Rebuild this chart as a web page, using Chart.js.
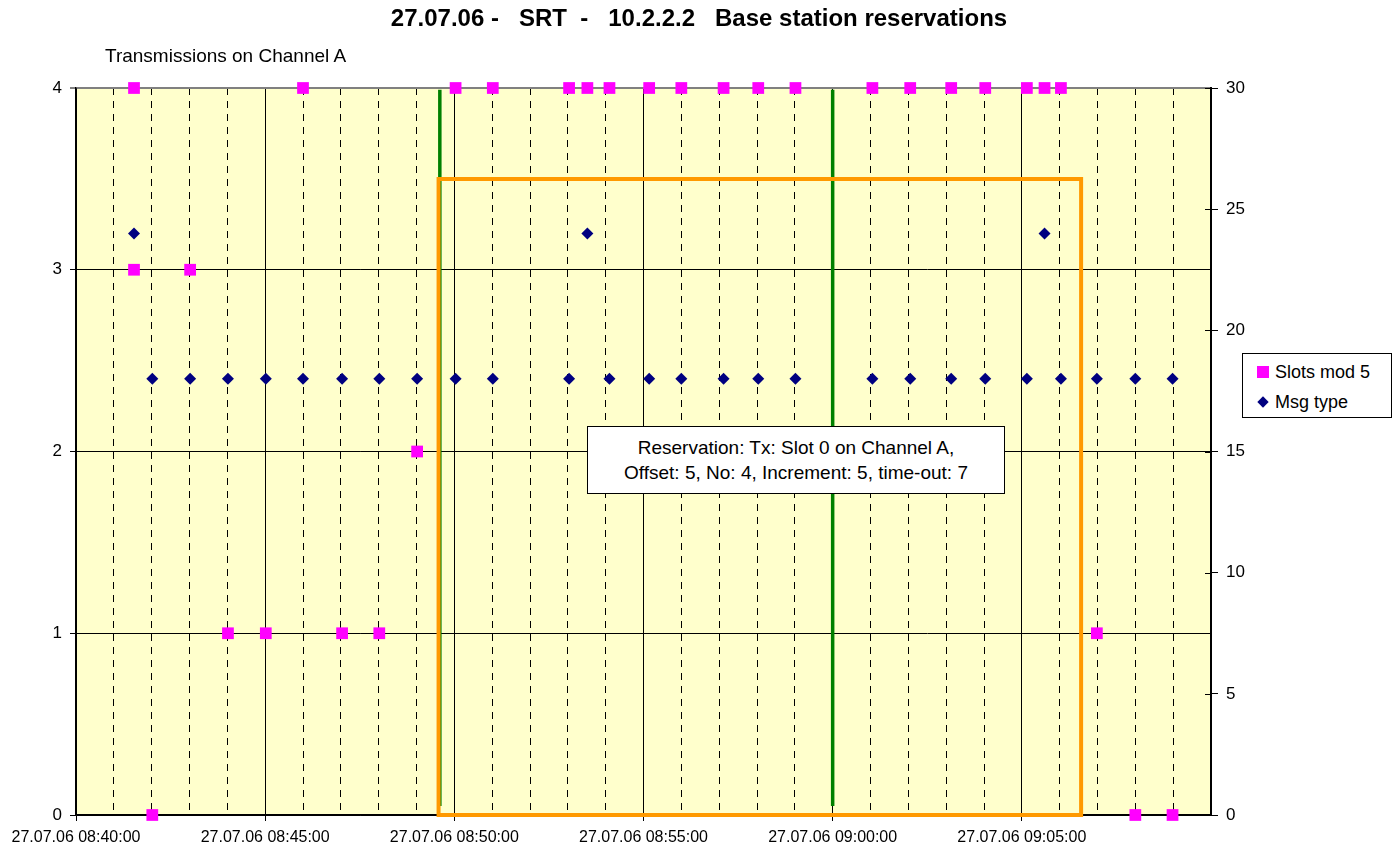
<!DOCTYPE html>
<html>
<head>
<meta charset="utf-8">
<title>Base station reservations</title>
<script src="https://cdn.jsdelivr.net/npm/chart.js@4.4.0/dist/chart.umd.min.js"></script>
<style>
    body { margin: 0; background: #fff; font-family: Arial, "Liberation Sans", sans-serif; color: #000; }
    #wrap { position: relative; width: 1398px; height: 850px; }
    #axisTitle { position: absolute; left: 105px; top: 45px; font-size: 19px; line-height: 22px; white-space: nowrap; }
    #legendBox { position: absolute; left: 1242px; top: 353px; width: 148px; height: 63px; border: 1px solid #000; background: #fff; font-size: 18px; }
    #legendBox .item { position: absolute; left: 0; width: 148px; height: 22px; line-height: 22px; white-space: nowrap; }
    #legendBox .sq { position: absolute; left: 14px; top: 5px; width: 12px; height: 12px; background: #ff00ff; }
    #legendBox .dm { position: absolute; left: 16px; top: 7px; width: 8px; height: 8px; background: #000080; transform: rotate(45deg); }
    #legendBox .lbl { position: absolute; left: 32px; top: 0; }
    #note { position: absolute; left: 587px; top: 426px; width: 418px; height: 68px; box-sizing: border-box; border: 1px solid #000; background: #fff;
            padding-top: 8px; text-align: center; font-size: 19px; line-height: 25px; white-space: nowrap; }
</style>
</head>
<body>
<div id="wrap">
    <canvas id="reservationChart" width="1398" height="850"></canvas>
    <div id="axisTitle">Transmissions on Channel A</div>
    <div id="legendBox">
        <div class="item" style="top:7px"><span class="sq"></span><span class="lbl">Slots mod 5</span></div>
        <div class="item" style="top:37px"><span class="dm"></span><span class="lbl">Msg type</span></div>
    </div>
    <div id="note">Reservation: Tx: Slot 0 on Channel A,<br>Offset: 5, No: 4, Increment: 5, time-out: 7</div>
</div>
<script>
// 날짜 / 시간축 범위
const dateText = '27.07.06';
const axisStart = '08:40:00';
const axisEnd = '09:10:00';

// Slots mod 5 (왼쪽 축)
const slotTimes = ['08:41:32', '08:41:32', '08:42:01', '08:43:01', '08:44:01', '08:45:01', '08:46:00', '08:47:02',
    '08:48:01', '08:49:01', '08:50:02', '08:51:01', '08:53:02', '08:53:31', '08:54:06', '08:55:09', '08:56:00',
    '08:57:07', '08:58:02', '08:59:01', '09:01:03', '09:02:03', '09:03:08', '09:04:02', '09:05:08', '09:05:36',
    '09:06:02', '09:06:59', '09:08:00', '09:08:59'];
const slotValues = [4, 3, 0, 3, 1, 1, 4, 1, 1, 2, 4, 4, 4, 4, 4, 4, 4, 4, 4, 4, 4, 4, 4, 4, 4, 4, 4, 1, 0, 0];

// Msg type (오른쪽 축)
const msgTimes = ['08:41:32', '08:42:01', '08:43:01', '08:44:01', '08:45:01', '08:46:00', '08:47:02', '08:48:01',
    '08:49:01', '08:50:02', '08:51:01', '08:53:02', '08:53:31', '08:54:06', '08:55:09', '08:56:00', '08:57:07',
    '08:58:02', '08:59:01', '09:01:03', '09:02:03', '09:03:08', '09:04:02', '09:05:08', '09:05:36', '09:06:02',
    '09:06:59', '09:08:00', '09:08:59'];
const msgValues = [24, 18, 18, 18, 18, 18, 18, 18, 18, 18, 18, 18, 24, 18, 18, 18, 18, 18, 18, 18, 18, 18, 18, 18, 24, 18, 18, 18, 18];

// 예약 구간 (주황 사각형) 과 초록 세로선
const reservationTimes = ['08:49:35', '09:06:34'];
const reservationLevels = [0, 3.5];
const markerTimes = ['08:49:37', '09:00:00'];
const markerLevels = [0.05, 3.99];

const leftTicks = [0, 4, 1];     // min, max, step
const rightTicks = [0, 30, 5];

// "HH:MM:SS" -> 시작 시각부터의 초
function toSeconds(text) {
    const p = text.split(':').map(Number);
    const base = axisStart.split(':').map(Number);
    return (p[0] * 3600 + p[1] * 60 + p[2]) - (base[0] * 3600 + base[1] * 60 + base[2]);
}

function toClock(sec) {
    const base = axisStart.split(':').map(Number);
    let total = base[0] * 3600 + base[1] * 60 + base[2] + sec;
    const h = Math.floor(total / 3600);
    const m = Math.floor((total % 3600) / 60);
    const s = total % 60;
    return [h, m, s].map(n => String(n).padStart(2, '0')).join(':');
}

function pairs(times, values) {
    return times.map((t, i) => ({ x: toSeconds(t), y: values[i] }));
}

const xMax = toSeconds(axisEnd);
const isMajor = v => v % 300 === 0 && v < xMax;

// 그래프 영역 배경색
const plotBackground = {
    id: 'plotBackground',
    beforeDraw(chart) {
        const { ctx, chartArea: a } = chart;
        ctx.save();
        ctx.fillStyle = '#FFFFCC';
        ctx.fillRect(a.left, a.top, a.right - a.left, a.bottom - a.top);
        ctx.restore();
    }
};

// 오른쪽 축 눈금이 축선을 가로지르도록 안쪽 부분을 그림
const innerTicks = {
    id: 'innerTicks',
    afterDatasetsDraw(chart) {
        const scale = chart.scales.y2;
        const ctx = chart.ctx;
        ctx.save();
        ctx.strokeStyle = '#000';
        ctx.lineWidth = 1;
        scale.ticks.forEach(t => {
            const y = Math.round(scale.getPixelForValue(t.value)) + 0.5;
            ctx.beginPath();
            ctx.moveTo(chart.chartArea.right - 6, y);
            ctx.lineTo(chart.chartArea.right, y);
            ctx.stroke();
        });
        ctx.restore();
    }
};

document.addEventListener('DOMContentLoaded', function() {
    Chart.defaults.font.family = 'Arial, "Liberation Sans", sans-serif';
    Chart.defaults.color = '#000';

    const r0 = toSeconds(reservationTimes[0]);
    const r1 = toSeconds(reservationTimes[1]);
    const rectangle = [
        { x: r1, y: reservationLevels[0] }, { x: r0, y: reservationLevels[0] },
        { x: r0, y: reservationLevels[1] }, { x: r1, y: reservationLevels[1] },
        { x: r1, y: reservationLevels[0] }
    ];

    const ctx = document.getElementById('reservationChart').getContext('2d');
    window.reservationChart = new Chart(ctx, {
        type: 'scatter',
        data: {
            datasets: [{
                label: 'Slots mod 5',
                data: pairs(slotTimes, slotValues),
                yAxisID: 'y',
                pointStyle: 'rect',
                pointRadius: 8.3,
                backgroundColor: '#FF00FF',
                borderWidth: 0,
                clip: false,
                order: 0
            }, {
                label: 'Msg type',
                data: pairs(msgTimes, msgValues),
                yAxisID: 'y2',
                pointStyle: 'rectRot',
                pointRadius: 6,
                backgroundColor: '#000080',
                borderWidth: 0,
                clip: false,
                order: 0
            }, {
                label: 'Reservation',
                data: rectangle,
                yAxisID: 'y',
                showLine: true,
                borderColor: '#FF9900',
                borderWidth: 4,
                borderCapStyle: 'square',
                borderJoinStyle: 'miter',
                pointRadius: 0,
                clip: false,
                order: 1
            }, {
                label: 'Start',
                data: markerLevels.map(v => ({ x: toSeconds(markerTimes[0]), y: v })),
                yAxisID: 'y',
                showLine: true,
                borderColor: '#008000',
                borderWidth: 3.5,
                pointRadius: 0,
                order: 2
            }, {
                label: 'End',
                data: markerLevels.map(v => ({ x: toSeconds(markerTimes[1]), y: v })),
                yAxisID: 'y',
                showLine: true,
                borderColor: '#008000',
                borderWidth: 3.5,
                pointRadius: 0,
                order: 2
            }]
        },
        options: {
            responsive: false,
            animation: false,
            events: [],
            layout: { padding: 0 },
            plugins: {
                legend: { display: false },
                tooltip: { enabled: false },
                title: {
                    display: true,
                    text: dateText + ' -   SRT  -   10.2.2.2   Base station reservations',
                    font: { size: 24, weight: 'bold' },
                    color: '#000',
                    padding: { top: 5, bottom: 54.2 }
                }
            },
            scales: {
                x: {
                    type: 'linear',
                    min: 0,
                    max: xMax,
                    ticks: {
                        stepSize: 60,
                        autoSkip: false,
                        maxRotation: 0,
                        padding: 7,
                        font: { size: 16 },
                        callback: v => isMajor(v) ? dateText + ' ' + toClock(v) : ''
                    },
                    grid: {
                        color: '#000',
                        lineWidth: 1,
                        tickLength: 6,
                        tickColor: c => (c.tick && isMajor(c.tick.value)) ? '#000' : 'rgba(0,0,0,0)'
                    },
                    border: {
                        color: '#000',
                        width: 1.5,
                        dash: c => (c.tick && c.tick.value % 300 !== 0) ? [7, 6] : []
                    },
                    afterFit(scale) { scale.height = 35; }
                },
                y: {
                    position: 'left',
                    min: leftTicks[0],
                    max: leftTicks[1],
                    ticks: { stepSize: leftTicks[2], padding: 8, font: { size: 17 } },
                    grid: {
                        color: c => (c.tick && c.tick.value === leftTicks[1]) ? '#808080' : '#000',
                        lineWidth: c => (c.tick && c.tick.value === leftTicks[1]) ? 2 : 1,
                        tickLength: 6
                    },
                    border: { color: '#000', width: 1.5 },
                    afterFit(scale) { scale.width = 76; }
                },
                y2: {
                    position: 'right',
                    min: rightTicks[0],
                    max: rightTicks[1],
                    ticks: { stepSize: rightTicks[2], padding: 8, font: { size: 17 } },
                    grid: { drawOnChartArea: false, tickLength: 7, tickColor: '#000' },
                    border: { color: '#000', width: 2 },
                    afterFit(scale) { scale.width = 187; }
                }
            }
        },
        plugins: [plotBackground, innerTicks]
    });
});
</script>
</body>
</html>
